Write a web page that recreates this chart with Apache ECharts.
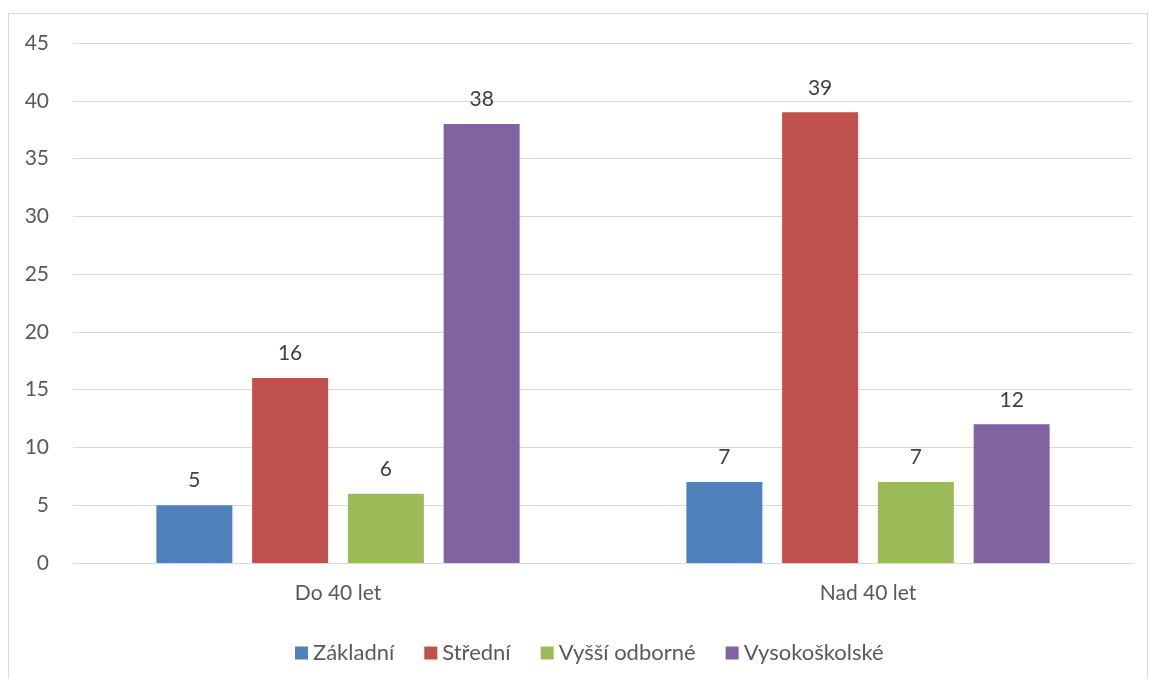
<!DOCTYPE html>
<html>
<head>
<meta charset="utf-8">
<script src="https://cdn.jsdelivr.net/npm/echarts@6/dist/echarts.min.js"></script>
<style>
  html, body { margin: 0; padding: 0; background: #fff; }
  #frame { position: absolute; left: 8px; top: 13px; width: 1140px; height: 680px; border: 1px solid #d9d9d9; box-sizing: border-box; }
  #chart { position: absolute; left: 0; top: 0; width: 1149px; height: 679px; }
</style>
</head>
<body>
<div id="frame"></div>
<div id="chart"></div>
<script>
const categories = ['Do 40 let', 'Nad 40 let'];
const seriesNames = ['Základní', 'Střední', 'Vyšší odborné', 'Vysokoškolské'];
const zakladni = [5, 7];
const stredni = [16, 39];
const vyssiOdborne = [6, 7];
const vysokoskolske = [38, 12];
const colors = ['#4f81bd', '#c0504d', '#9bbb59', '#8064a2'];

const font = 'Lato, "Open Sans", sans-serif';
const chart = echarts.init(document.getElementById('chart'));

function makeSeries(name, data, color) {
  return {
    name,
    type: 'bar',
    data,
    barWidth: 76,
    barGap: '26%',
    itemStyle: { color },
    label: {
      show: true,
      position: 'top',
      distance: 14,
      color: '#404040',
      fontFamily: font,
      fontSize: 21,
    },
  };
}

chart.setOption({
  animation: false,
  color: colors,
  textStyle: { fontFamily: font },
  grid: { left: 73, right: 16, top: 43, bottom: 116 },
  legend: {
    top: 637,
    left: 290,
    itemWidth: 13,
    itemHeight: 13,
    itemGap: 30,
    icon: 'rect',
    textStyle: { color: '#595959', fontSize: 22, fontFamily: font },
    data: seriesNames,
  },
  xAxis: {
    type: 'category',
    data: categories,
    axisLine: { lineStyle: { color: '#d9d9d9', width: 1 } },
    axisTick: { show: false },
    axisLabel: { color: '#595959', fontSize: 21, margin: 20, fontFamily: font },
  },
  yAxis: {
    type: 'value',
    min: 0,
    max: 45,
    interval: 5,
    axisLine: { show: false },
    axisTick: { show: false },
    axisLabel: { color: '#595959', fontSize: 21, margin: 24, fontFamily: font },
    splitLine: { lineStyle: { color: '#d9d9d9', width: 1 } },
  },
  series: [
    makeSeries(seriesNames[0], zakladni, colors[0]),
    makeSeries(seriesNames[1], stredni, colors[1]),
    makeSeries(seriesNames[2], vyssiOdborne, colors[2]),
    makeSeries(seriesNames[3], vysokoskolske, colors[3]),
  ],
});
</script>
</body>
</html>
